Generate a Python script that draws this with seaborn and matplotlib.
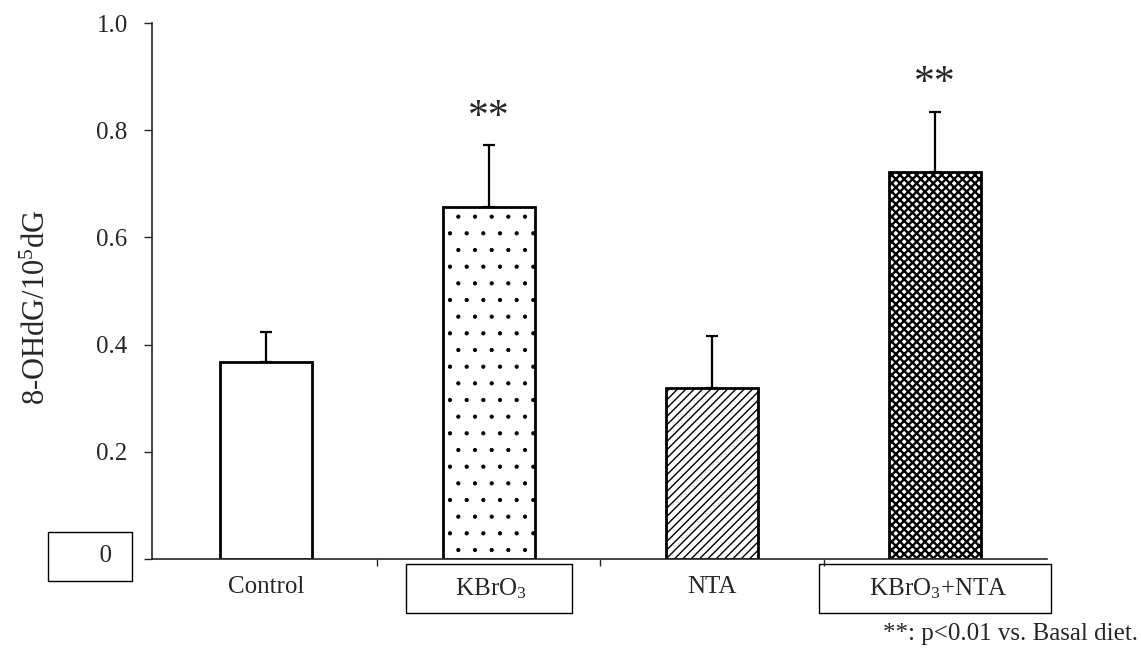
import numpy as np
import pandas as pd
import matplotlib
matplotlib.use("Agg")
import matplotlib.pyplot as plt
import matplotlib.transforms as mtransforms
import seaborn as sns

# ---- data ----
categories = ["Control", "KBrO$_3$", "NTA", "KBrO$_3$+NTA"]
means = [0.368, 0.657, 0.320, 0.723]
errors = [0.055, 0.115, 0.096, 0.111]
stars = ["", "**", "", "**"]
yticks = [0, 0.2, 0.4, 0.6, 0.8, 1.0]
ytick_labels = ["", "0.2", "0.4", "0.6", "0.8", "1.0"]
ylabel = "8-OHdG/10$^5$dG"
footnote = "**: p<0.01 vs. Basal diet."
hatches = ["", ".", "////", "xxxx"]
hatch_lw = [1.0, 0.6, 1.0, 1.7]
boxed = [False, True, False, True]

sns.set_style("ticks")
plt.rcParams["font.family"] = ["Liberation Serif", "DejaVu Serif"]
plt.rcParams["mathtext.fontset"] = "custom"
plt.rcParams["mathtext.rm"] = "Liberation Serif"
plt.rcParams["mathtext.it"] = "Liberation Serif:italic"
plt.rcParams["mathtext.bf"] = "Liberation Serif:bold"
plt.rcParams["hatch.color"] = "black"

fig = plt.figure(figsize=(11.41, 6.59), dpi=100)
ax = fig.add_axes([0.1332, 0.1517, 0.7844, 0.8133])

df = pd.DataFrame({"group": categories, "value": means})
sns.barplot(data=df, x="group", y="value", order=categories, color="white",
            edgecolor="black", linewidth=2.0, width=0.41, errorbar=None,
            saturation=1, ax=ax)

for patch, h, hl in zip(ax.patches, hatches, hatch_lw):
    patch.set_facecolor("white")
    patch.set_edgecolor("black")
    if h:
        patch.set_hatch(h)
        if hasattr(patch, "set_hatch_linewidth"):
            patch.set_hatch_linewidth(hl)

xpos = np.arange(len(categories))
ax.errorbar(xpos, means, yerr=[np.zeros(len(means)), errors], fmt="none",
            ecolor="black", elinewidth=1.6, capsize=4.5, capthick=1.6, zorder=1)

for x, m, e, s in zip(xpos, means, errors, stars):
    if s:
        ax.text(x, m + e + 0.052, s, ha="center", va="center", fontsize=30)

ax.set_xlim(-0.511, 3.502)
ax.set_ylim(0, 1.0)
ax.set_yticks(yticks)
ax.set_yticklabels(ytick_labels, fontsize=18)
ax.tick_params(axis="y", direction="out", length=5.5, width=1.0, pad=12)

ax.set_xticks(xpos)
xl = []
for c, b in zip(categories, boxed):
    xl.append(("      " + c + "      ") if b else c)
ax.set_xticklabels(xl, fontsize=18)
ax.tick_params(axis="x", which="major", length=0, pad=12.5)
ax.set_xticks([0.5, 1.5, 2.5], minor=True)
ax.tick_params(axis="x", which="minor", direction="out", length=5, width=1.0)
for lab, b in zip(ax.get_xticklabels(), boxed):
    if b:
        lab.set_bbox(dict(boxstyle="square,pad=0.5", facecolor="white",
                          edgecolor="black", linewidth=1.0))

# boxed zero label
trans = mtransforms.blended_transform_factory(ax.transAxes, ax.transData)
ax.text(-0.038, 0.005, "      0 ", transform=trans, ha="right", va="center",
        fontsize=18, clip_on=False,
        bbox=dict(boxstyle="square,pad=0.55", facecolor="white",
                  edgecolor="black", linewidth=1.0))

ax.set_xlabel("")
ax.set_ylabel(ylabel, fontsize=22)
ax.yaxis.set_label_coords(-0.112, 0.47)

sns.despine(ax=ax, top=True, right=True)
ax.spines["left"].set_linewidth(1.2)
ax.spines["bottom"].set_linewidth(1.2)

fig.text(0.997, 0.029, footnote, ha="right", va="baseline", fontsize=18)

fig.savefig("out.png", dpi=100)
